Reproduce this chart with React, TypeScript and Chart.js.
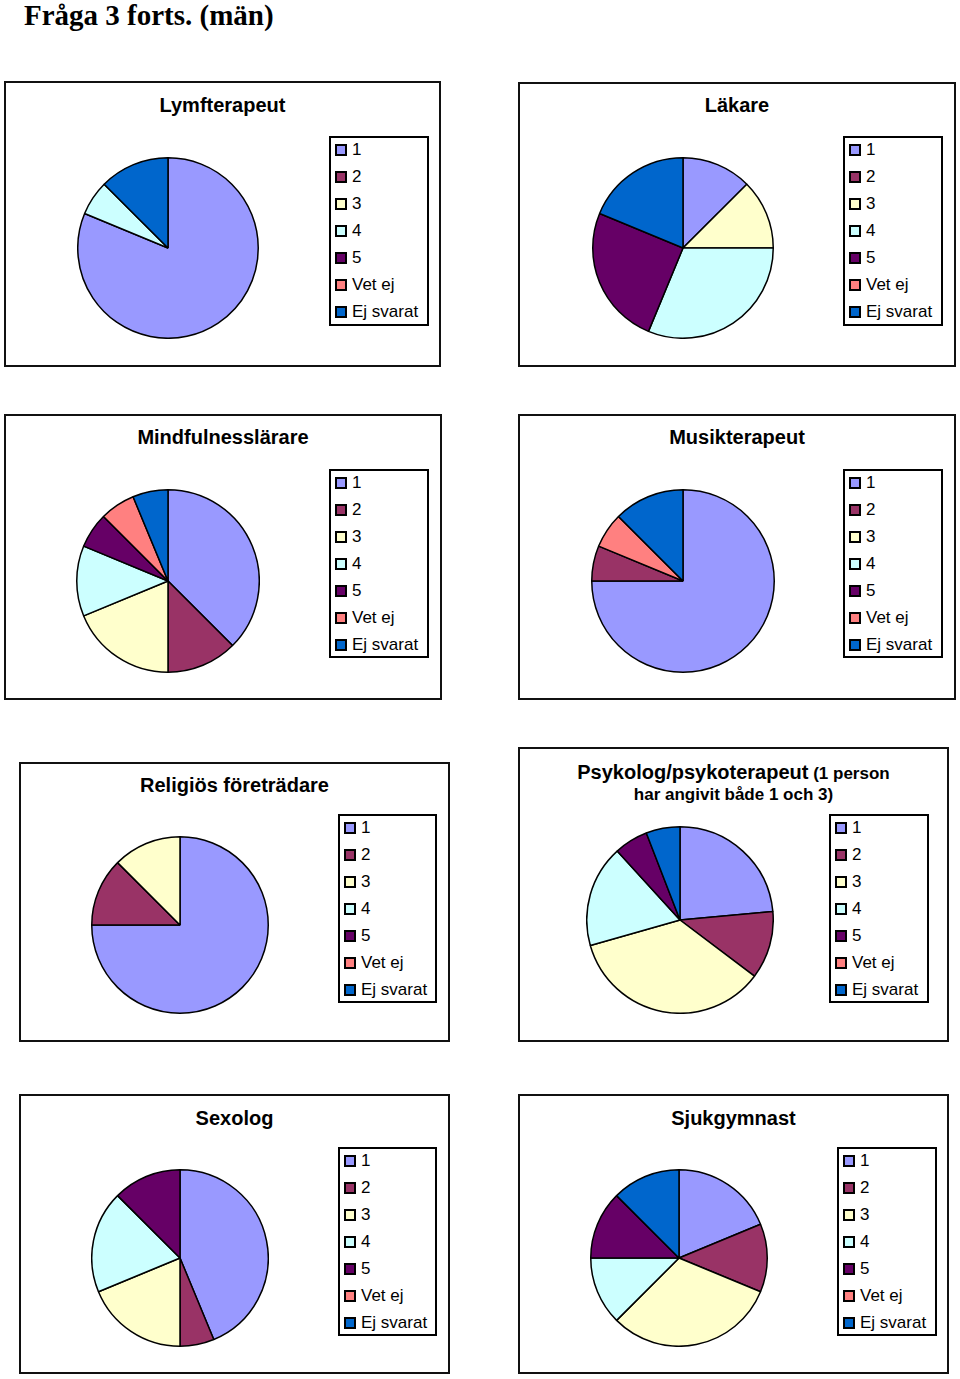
import React, { useEffect, useRef } from "react";
import { Chart, registerables } from "chart.js";

Chart.register(...registerables);

// ---- data ----
const categories = ["1", "2", "3", "4", "5", "Vet ej", "Ej svarat"];
const sliceColors = ["#9999FF", "#993366", "#FFFFCC", "#CCFFFF", "#660066", "#FF8080", "#0066CC"];

const lymfterapeut = [13, 0, 0, 1, 0, 0, 2];
const lakare = [2, 0, 2, 5, 4, 0, 3];
const mindfulnesslarare = [6, 2, 3, 2, 1, 1, 1];
const musikterapeut = [12, 1, 0, 0, 0, 1, 2];
const religiosForetradare = [12, 2, 2, 0, 0, 0, 0];
const psykolog = [4, 2, 6, 3, 1, 0, 1];
const sexolog = [7, 1, 3, 3, 2, 0, 0];
const sjukgymnast = [3, 2, 5, 2, 2, 0, 2];

const pageTitle = "Fråga 3 forts. (män)";

// ---- layout ----
type Panel = {
  title: string;
  titleSmall?: string;
  titleLine2?: string;
  values: number[];
  box: [number, number, number, number];
  pie: [number, number, number];
  legend: [number, number, number, number];
  titleY: number;
};

const panels: Panel[] = [
  { title: "Lymfterapeut", values: lymfterapeut, box: [4, 81, 441, 367], pie: [168, 248, 90], legend: [329, 136, 429, 326], titleY: 105 },
  { title: "Läkare", values: lakare, box: [518, 82, 956, 367], pie: [683, 248, 90], legend: [843, 136, 943, 326], titleY: 105 },
  { title: "Mindfulnesslärare", values: mindfulnesslarare, box: [4, 414, 442, 700], pie: [168, 581, 91], legend: [329, 469, 429, 658], titleY: 437 },
  { title: "Musikterapeut", values: musikterapeut, box: [518, 414, 956, 700], pie: [683, 581, 91], legend: [843, 469, 943, 658], titleY: 437 },
  { title: "Religiös företrädare", values: religiosForetradare, box: [19, 762, 450, 1042], pie: [180, 925, 88], legend: [338, 814, 437, 1003], titleY: 785 },
  { title: "Psykolog/psykoterapeut", titleSmall: " (1 person", titleLine2: "har angivit både 1 och 3)", values: psykolog, box: [518, 747, 949, 1042], pie: [680, 920, 93], legend: [829, 814, 929, 1003], titleY: 772 },
  { title: "Sexolog", values: sexolog, box: [19, 1094, 450, 1374], pie: [180, 1258, 88], legend: [338, 1147, 437, 1336], titleY: 1118 },
  { title: "Sjukgymnast", values: sjukgymnast, box: [518, 1094, 949, 1374], pie: [679, 1258, 88], legend: [837, 1147, 937, 1336], titleY: 1118 },
];

const SANS = '"Liberation Sans", Arial, Helvetica, sans-serif';
const BW = 1.5;

function Pie({ values, cx, cy, r }: { values: number[]; cx: number; cy: number; r: number }) {
  const ref = useRef<HTMLCanvasElement | null>(null);
  const size = Math.round(2 * r + BW);
  useEffect(() => {
    if (!ref.current) return;
    const chart = new Chart(ref.current, {
      type: "pie",
      data: {
        labels: categories,
        datasets: [
          {
            data: values,
            backgroundColor: sliceColors,
            borderColor: "#000000",
            borderWidth: BW,
          },
        ],
      },
      options: {
        animation: false,
        responsive: false,
        maintainAspectRatio: false,
        layout: { padding: 0 },
        plugins: {
          legend: { display: false },
          tooltip: { enabled: false },
          title: { display: false },
        },
      },
    });
    return () => chart.destroy();
  }, [values]);
  return (
    <canvas
      ref={ref}
      width={size}
      height={size}
      style={{ position: "absolute", left: cx - size / 2, top: cy - size / 2, width: size, height: size }}
    />
  );
}

function PanelView({ p }: { p: Panel }) {
  const [l, t, r, b] = p.box;
  const [ll, lt, lr, lb] = p.legend;
  const cxBox = (l + r) / 2;
  return (
    <>
      <div
        style={{
          position: "absolute",
          left: l,
          top: t,
          width: r - l,
          height: b - t,
          border: "2px solid #111",
          boxSizing: "border-box",
          background: "#fff",
        }}
      />
      <div
        style={{
          position: "absolute",
          left: cxBox - 250,
          width: 500,
          top: p.titleY - 12,
          height: 24,
          lineHeight: "24px",
          textAlign: "center",
          fontFamily: SANS,
          fontWeight: "bold",
          fontSize: 20,
          color: "#000",
          whiteSpace: "nowrap",
        }}
      >
        {p.title}
        {p.titleSmall ? <span style={{ fontSize: 17 }}>{p.titleSmall}</span> : null}
      </div>
      {p.titleLine2 ? (
        <div
          style={{
            position: "absolute",
            left: cxBox - 250,
            width: 500,
            top: p.titleY + 23 - 11,
            height: 22,
            lineHeight: "22px",
            textAlign: "center",
            fontFamily: SANS,
            fontWeight: "bold",
            fontSize: 17,
            color: "#000",
            whiteSpace: "nowrap",
          }}
        >
          {p.titleLine2}
        </div>
      ) : null}
      <Pie values={p.values} cx={p.pie[0]} cy={p.pie[1]} r={p.pie[2]} />
      <div
        style={{
          position: "absolute",
          left: ll,
          top: lt,
          width: lr - ll,
          height: lb - lt,
          border: "2px solid #000",
          boxSizing: "border-box",
          background: "#fff",
        }}
      >
        {categories.map((c, i) => (
          <div key={c} style={{ position: "absolute", left: 0, top: 14 - 2 + i * 27 - 11, height: 22, width: lr - ll - 4 }}>
            <div
              style={{
                position: "absolute",
                left: 4,
                top: 5,
                width: 12,
                height: 12,
                boxSizing: "border-box",
                border: "2px solid #000",
                background: sliceColors[i],
              }}
            />
            <div
              style={{
                position: "absolute",
                left: 21,
                top: 0,
                height: 22,
                lineHeight: "22px",
                fontFamily: SANS,
                fontSize: 17,
                color: "#000",
                whiteSpace: "nowrap",
              }}
            >
              {c}
            </div>
          </div>
        ))}
      </div>
    </>
  );
}

export default function App() {
  return (
    <div style={{ position: "absolute", left: 0, top: 0, width: 960, height: 1379, background: "#fff", overflow: "hidden" }}>
      <div
        style={{
          position: "absolute",
          left: 24,
          top: 0,
          height: 30,
          lineHeight: "30px",
          fontFamily: '"Liberation Serif", "Times New Roman", serif',
          fontWeight: "bold",
          fontSize: 29,
          color: "#000",
          whiteSpace: "nowrap",
        }}
      >
        {pageTitle}
      </div>
      {panels.map((p) => (
        <PanelView key={p.title} p={p} />
      ))}
    </div>
  );
}
